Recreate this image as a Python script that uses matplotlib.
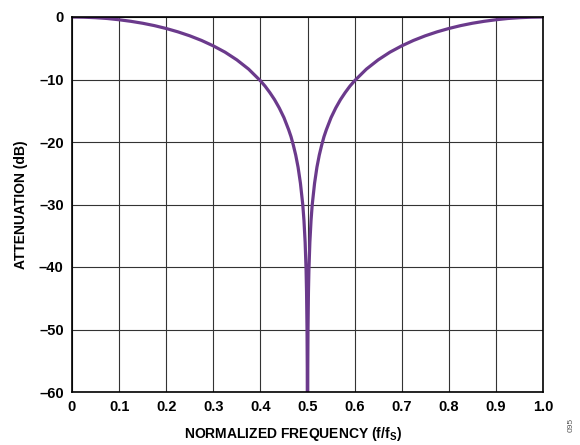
import numpy as np
import matplotlib.pyplot as plt

plt.rcParams['font.family'] = ['Liberation Sans', 'DejaVu Sans']
plt.rcParams['mathtext.default'] = 'regular'

# values (left half, 0 .. 0.5)
freq_left = [0.0, 0.025, 0.05, 0.075, 0.1, 0.125, 0.15, 0.175, 0.2, 0.225, 0.25, 0.275,
             0.3, 0.325, 0.35, 0.375, 0.4, 0.41, 0.42, 0.43, 0.44, 0.45, 0.46, 0.465,
             0.47, 0.475, 0.48, 0.485, 0.49, 0.4925, 0.495, 0.497, 0.498, 0.499, 0.4995, 0.5]
atten_left = [0.0, -0.03, -0.11, -0.24, -0.44, -0.69, -1.0, -1.38, -1.84, -2.38, -3.01,
              -3.75, -4.62, -5.63, -6.86, -8.34, -10.2, -11.07, -12.09, -13.22, -14.55,
              -16.1, -18.04, -19.15, -20.53, -22.1, -24.04, -26.6, -30.06, -32.56, -36.08,
              -40.5, -44.04, -50.06, -56.1, -80.0]
# right half mirrors the left one
freq_right = [0.5005, 0.501, 0.502, 0.503, 0.505, 0.5075, 0.51, 0.515, 0.52, 0.525, 0.53,
              0.535, 0.54, 0.55, 0.56, 0.57, 0.58, 0.59, 0.6, 0.625, 0.65, 0.675, 0.7,
              0.725, 0.75, 0.775, 0.8, 0.825, 0.85, 0.875, 0.9, 0.925, 0.95, 0.975, 1.0]
atten_right = [-56.1, -50.06, -44.04, -40.5, -36.08, -32.56, -30.06, -26.6, -24.04, -22.1,
               -20.53, -19.15, -18.04, -16.1, -14.55, -13.22, -12.09, -11.07, -10.2, -8.34,
               -6.86, -5.63, -4.62, -3.75, -3.01, -2.38, -1.84, -1.38, -1.0, -0.69, -0.44,
               -0.24, -0.11, -0.03, 0.0]
xticks = [0, 0.1, 0.2, 0.3, 0.4, 0.5, 0.6, 0.7, 0.8, 0.9, 1.0]
xlabels = ['0', '0.1', '0.2', '0.3', '0.4', '0.5', '0.6', '0.7', '0.8', '0.9', '1.0']
yticks = [0, -10, -20, -30, -40, -50, -60]
ylabels = ['0', '\u201310', '\u201320', '\u201330', '\u201340', '\u201350', '\u201360']

fig = plt.figure(figsize=(5.8, 4.45), dpi=100)
ax = fig.add_axes([72/580, 1-392/445, (543-72)/580, (392-17)/445])
ax.plot(freq_left + freq_right, atten_left + atten_right, color='#6b3a8c', linewidth=2.3)
ax.set_xlim(0, 1.0)
ax.set_ylim(-60, 0)
ax.set_xticks(xticks)
ax.set_xticklabels(xlabels, fontsize=10.5, fontweight='bold')
ax.set_yticks(yticks)
ax.set_yticklabels(ylabels, fontsize=10.5, fontweight='bold')
ax.tick_params(length=0, pad=6)
ax.grid(True, color='#333333', linewidth=0.8)
ax.set_axisbelow(True)
for s in ax.spines.values():
    s.set_linewidth(1.2)
ax.set_xlabel(r'NORMALIZED FREQUENCY (f/f$_\mathregular{S}$)', fontsize=10, fontweight='bold')
ax.xaxis.set_label_coords(0.47, -0.088)
ax.set_ylabel('ATTENUATION (dB)', fontsize=10, fontweight='bold', labelpad=8)
fig.text(0.985, 0.03, '095', rotation=90, fontsize=6, color='#555555', ha='center', va='bottom')
fig.savefig('out.png', dpi=100)
